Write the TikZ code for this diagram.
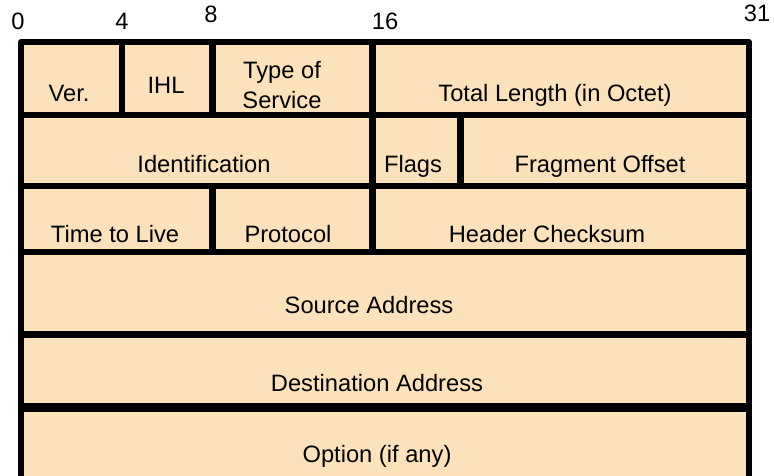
\documentclass[tikz,border=0pt]{standalone}
\usepackage{fontspec}
\setmainfont{Liberation Sans}
\usetikzlibrary{positioning}
\definecolor{fieldbg}{RGB}{252,226,186}

\begin{document}
\begin{tikzpicture}[x=1pt,y=-1pt,
    field/.style={font=\fontsize{23.7}{30}\selectfont, anchor=base, inner sep=0pt, align=center},
    bitno/.style={font=\fontsize{23.7}{30}\selectfont, anchor=base, inner sep=0pt},
    rule/.style={line width=6.6pt},
    frame/.style={line width=6pt}]
    \useasboundingbox (0,0) rectangle (774,476);
    \fill [fieldbg] (21,42) rectangle (749,490);
    % bit numbers
    \node (B0) [bitno] at (18,30) {0};
    \node (B4) [bitno] at (122,30) {4};
    \node (B8) [bitno] at (211,23) {8};
    \node (B16) [bitno] at (385,30) {16};
    \node (B31) [bitno] at (757,22) {31};
    % row separators
    \draw [rule] (18,115) -- (751,115);
    \draw [rule] (18,186) -- (751,186);
    \draw [rule] (18,252) -- (751,252);
    \draw [rule] (18,334.5) -- (751,334.5);
    \draw [rule, line width=9pt] (18,407.5) -- (751,407.5);
    % column separators
    \draw [rule] (122,42) -- (122,115);
    \draw [rule] (212.5,42) -- (212.5,115);
    \draw [rule] (372.5,42) -- (372.5,252);
    \draw [rule] (460.5,115) -- (460.5,186);
    \draw [rule] (212.5,186) -- (212.5,252);
    % outer frame
    \draw [frame, line join=round] (21,490) -- (21,42) -- (749,42) -- (749,490);
    % fields
    \node (Ver) [field] at (69,102) {Ver.};
    \node (IHL) [field] at (166,94) {IHL};
    \node (ToS) [field] at (282,109) {Type of\\Service};
    \node (TotLen) [field] at (555,102) {Total Length (in Octet)};
    \node (Ident) [field] at (204,172) {Identification};
    \node (Flags) [field] at (413,172) {Flags};
    \node (FragOff) [field] at (600,172) {Fragment Offset};
    \node (TTL) [field] at (115,242) {Time to Live};
    \node (Proto) [field] at (288,242) {Protocol};
    \node (HdrCk) [field] at (547,242) {Header Checksum};
    \node (SrcAddr) [field] at (369,313) {Source Address};
    \node (DstAddr) [field] at (377,391) {Destination Address};
    \node (Option) [field] at (377,462) {Option (if any)};
\end{tikzpicture}
\end{document}
